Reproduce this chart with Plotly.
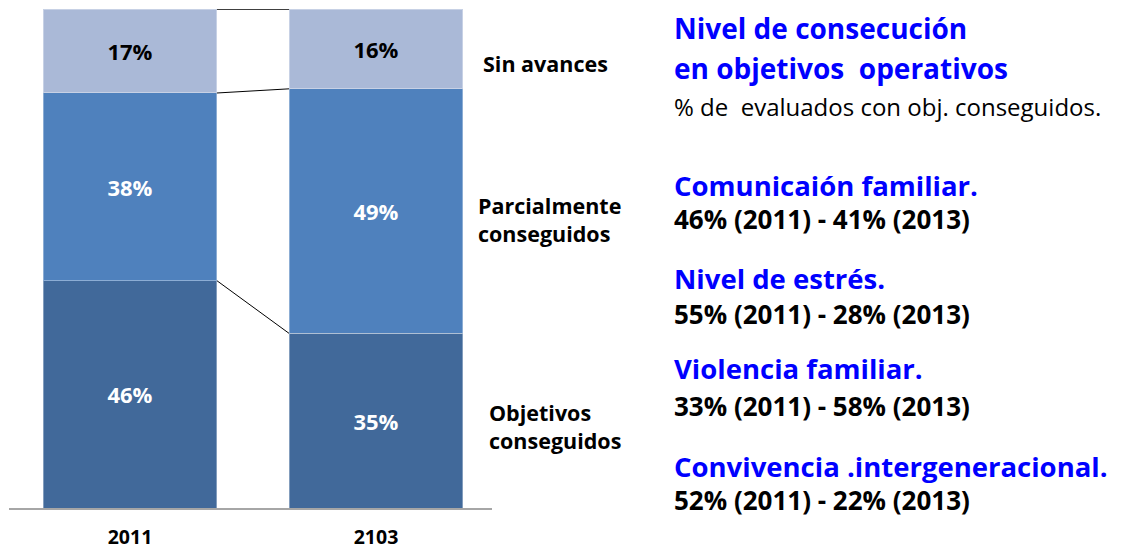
import plotly.graph_objects as go

W, H = 1123, 551

# ---- data ----
categories = ["2011", "2103"]
series_names = ["Objetivos conseguidos", "Parcialmente conseguidos", "Sin avances"]
objetivos = [46, 35]
parcial = [38, 49]
sin_avances = [17, 16]

side_titles = ["Nivel de consecución", "en objetivos  operativos"]
side_subtitle = "% de  evaluados con obj. conseguidos."
indicator_names = ["Comunicaión familiar.", "Nivel de estrés.", "Violencia familiar.",
                   "Convivencia .intergeneracional."]
indicator_values = ["46% (2011) - 41% (2013)", "55% (2011) - 28% (2013)",
                    "33% (2011) - 58% (2013)", "52% (2011) - 22% (2013)"]

colors = ["#41699A", "#4F81BD", "#AAB9D7"]
text_colors = ["white", "white", "black"]
FONT = "Open Sans"

def py(p):
    return 1 - p / H

def px(p):
    return p / W

x_pos = list(range(len(categories)))
bar_w = 0.707

fig = go.Figure()
all_series = [objetivos, parcial, sin_avances]
for name, vals, col, tcol in zip(series_names, all_series, colors, text_colors):
    fig.add_trace(go.Bar(
        x=x_pos, y=vals, name=name, width=bar_w,
        marker=dict(color=col, line=dict(color="rgba(255,255,255,0.35)", width=1)),
        text=[f"{v}%" for v in vals], textposition="inside", insidetextanchor="middle",
        textangle=0,
        textfont=dict(family=FONT, size=22, color=tcol, weight="bold"),
        hoverinfo="skip",
    ))

# series lines (normalised cumulative tops)
totals = [sum(s[i] for s in all_series) for i in range(len(categories))]
cum = [0, 0]
for k, vals in enumerate(all_series):
    cum = [cum[i] + vals[i] for i in range(len(categories))]
    ys = [cum[i] / totals[i] * 100 for i in range(len(categories))]
    fig.add_trace(go.Scatter(
        x=[x_pos[0] + bar_w / 2, x_pos[1] - bar_w / 2], y=ys, mode="lines",
        line=dict(color="#404040" if k == 2 else "black", width=2 if k == 2 else 1),
        hoverinfo="skip", showlegend=False,
    ))

ann = []
# category labels on the right of bars
ann.append(dict(text="Sin avances", x=px(481), y=py(63), xanchor="left", yanchor="middle"))
ann.append(dict(text="Parcialmente<br>conseguidos", x=px(476), y=py(220), xanchor="left",
                yanchor="middle", align="left"))
ann.append(dict(text="Objetivos<br>conseguidos", x=px(487), y=py(426), xanchor="left",
                yanchor="middle", align="left"))
for a in ann:
    a.update(xref="paper", yref="paper", showarrow=False,
             font=dict(family=FONT, size=21.5, color="black", weight="bold"))

side = []
side.append(dict(text=side_titles[0], y=28, size=28, color="#0000FF", weight="bold"))
side.append(dict(text=side_titles[1], y=68, size=28, color="#0000FF", weight="bold"))
side.append(dict(text=side_subtitle, y=106, size=24, color="black", weight="normal"))
ind_name_y = [185, 278, 368, 466]
ind_val_y = [219, 314, 406, 500]
for n, v, yn, yv in zip(indicator_names, indicator_values, ind_name_y, ind_val_y):
    side.append(dict(text=n, y=yn, size=27.5, color="#0000FF", weight="bold"))
    side.append(dict(text=v, y=yv, size=26, color="black", weight="bold"))
for s in side:
    ann.append(dict(text=s["text"], xref="paper", yref="paper", x=px(672), y=py(s["y"]),
                    xanchor="left", yanchor="middle", showarrow=False,
                    font=dict(family=FONT, size=s["size"], color=s["color"], weight=s["weight"])))

fig.update_layout(
    width=W, height=H, barmode="stack", barnorm="percent",
    margin=dict(l=0, r=0, t=0, b=0),
    paper_bgcolor="white", plot_bgcolor="white",
    showlegend=False,
    annotations=ann,
    xaxis=dict(domain=[px(9), px(492)], range=[-121 / 246, 1 + 116 / 246],
               tickvals=x_pos, ticktext=categories, showgrid=False, zeroline=False,
               showline=True, linecolor="#A6A6A6", linewidth=2, ticks="",
               ticklabelstandoff=11, automargin=False,
               tickfont=dict(family=FONT, size=19.5, color="black", weight="bold")),
    yaxis=dict(domain=[py(508), py(9)], range=[0, 100], visible=False, automargin=False),
)

fig.write_html("out.html", config={"displayModeBar": False},
               post_script="document.body.style.margin='0';document.body.style.overflow='hidden';")
